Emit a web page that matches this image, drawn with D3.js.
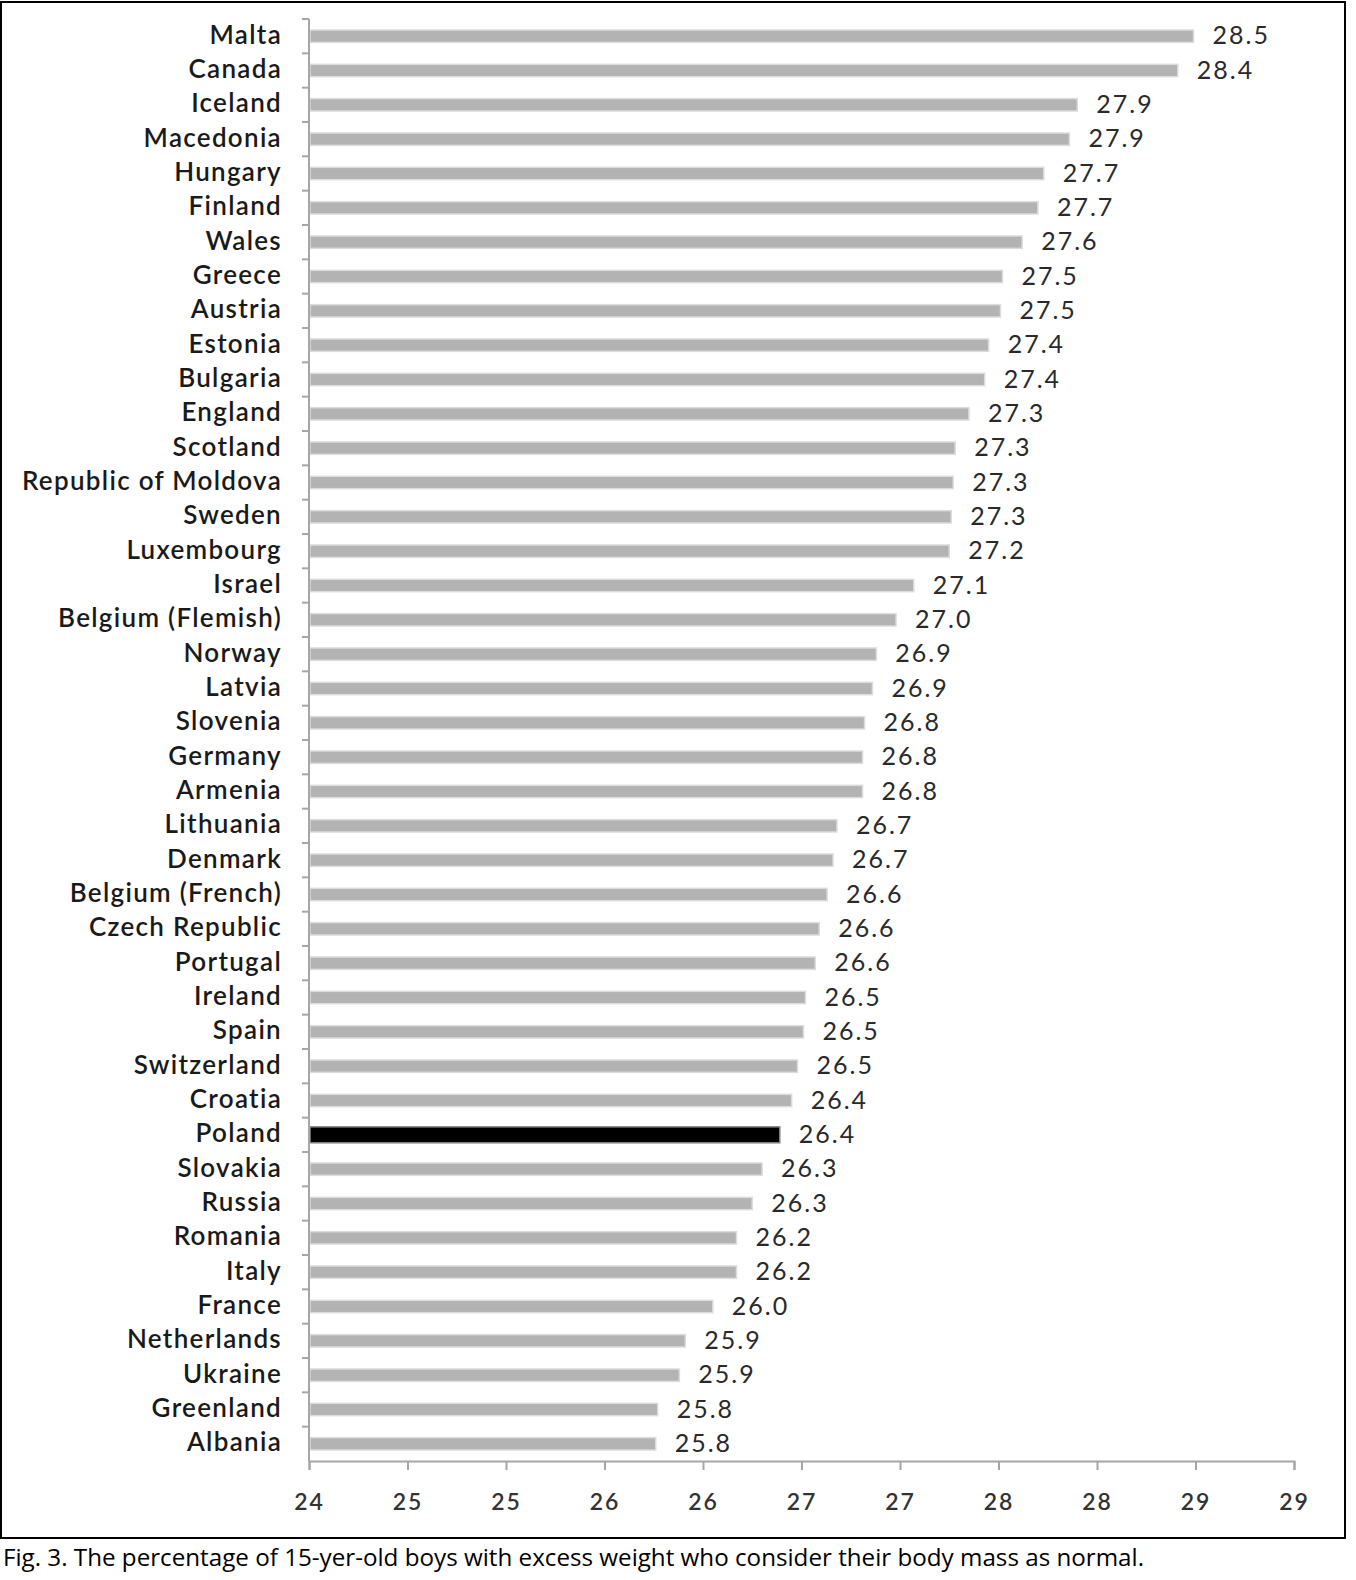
<!DOCTYPE html>
<html>
<head>
<meta charset="utf-8">
<script src="https://cdn.jsdelivr.net/npm/d3@7"></script>
<style>
  html, body { margin: 0; padding: 0; background: #fff; overflow: hidden; }
  svg { display: block; }
</style>
</head>
<body>
<svg id="chart" width="1356" height="1580"></svg>
<script>
const countries = ["Malta","Canada","Iceland","Macedonia","Hungary","Finland","Wales","Greece","Austria","Estonia","Bulgaria","England","Scotland","Republic of Moldova","Sweden","Luxembourg","Israel","Belgium (Flemish)","Norway","Latvia","Slovenia","Germany","Armenia","Lithuania","Denmark","Belgium (French)","Czech Republic","Portugal","Ireland","Spain","Switzerland","Croatia","Poland","Slovakia","Russia","Romania","Italy","France","Netherlands","Ukraine","Greenland","Albania"];
const values = [28.49,28.41,27.90,27.86,27.73,27.70,27.62,27.52,27.51,27.45,27.43,27.35,27.28,27.27,27.26,27.25,27.07,26.98,26.88,26.86,26.82,26.81,26.81,26.68,26.66,26.63,26.59,26.57,26.52,26.51,26.48,26.45,26.39,26.30,26.25,26.17,26.17,26.05,25.91,25.88,25.77,25.76];
const valueLabels = ["28.5","28.4","27.9","27.9","27.7","27.7","27.6","27.5","27.5","27.4","27.4","27.3","27.3","27.3","27.3","27.2","27.1","27.0","26.9","26.9","26.8","26.8","26.8","26.7","26.7","26.6","26.6","26.6","26.5","26.5","26.5","26.4","26.4","26.3","26.3","26.2","26.2","26.0","25.9","25.9","25.8","25.8"];
const tickValues = [24,24.5,25,25.5,26,26.5,27,27.5,28,28.5,29];
const tickLabels = ["24","25","25","26","26","27","27","28","28","29","29"];
const highlight = "Poland";
const caption = "Fig. 3. The percentage of 15-yer-old boys with excess weight who consider their body mass as normal.";

const svg = d3.select("#chart");
const font = "Lato, 'Open Sans', sans-serif";

// frame
svg.append("rect").attr("x", 1).attr("y", 2).attr("width", 1344).attr("height", 1536)
  .attr("fill", "none").attr("stroke", "#000").attr("stroke-width", 2);

const x = d3.scaleLinear().domain([24, 29]).range([309, 1294]);
const y = d3.scaleBand().domain(countries).range([19, 1461]).paddingInner(0.64).paddingOuter(0.32);

const data = countries.map((c, i) => ({c, v: values[i], l: valueLabels[i]}));

// bars
svg.append("g").selectAll("rect").data(data).join("rect")
  .attr("x", x(24) + 1)
  .attr("y", d => d.c === highlight ? y(d.c) + y.bandwidth()/2 - 8 : y(d.c))
  .attr("height", d => d.c === highlight ? 16 : y.bandwidth())
  .attr("width", d => x(d.v) - x(24) - 1)
  .attr("fill", d => d.c === highlight ? "#000" : "#b3b3b3")
  .attr("stroke", d => d.c === highlight ? "#888" : "#dcdcdc")
  .attr("stroke-width", 1.5);

// value labels
svg.append("g").selectAll("text").data(data).join("text")
  .attr("x", d => x(d.v) + 19)
  .attr("y", d => y(d.c) + y.bandwidth()/2 + 2)
  .attr("dominant-baseline", "middle")
  .attr("font-family", font).attr("font-size", 25).attr("letter-spacing", 2)
  .attr("fill", "#2a2a2a")
  .text(d => d.l);

// y axis
const yBoundaries = d3.range(countries.length).map(i => 19 + i * (1442 / countries.length));
const yg = svg.append("g");
yg.append("line").attr("x1", 309).attr("x2", 309).attr("y1", 19).attr("y2", 1461)
  .attr("stroke", "#a6a6a6").attr("stroke-width", 2);
yg.selectAll("line.t").data(yBoundaries).join("line").attr("class", "t")
  .attr("x1", 302).attr("x2", 309).attr("y1", d => d).attr("y2", d => d)
  .attr("stroke", "#a6a6a6").attr("stroke-width", 2);

// country labels
svg.append("g").selectAll("text").data(data).join("text")
  .attr("x", 282)
  .attr("y", d => y(d.c) + y.bandwidth()/2 + 1)
  .attr("text-anchor", "end").attr("dominant-baseline", "middle")
  .attr("font-family", font).attr("font-size", 26).attr("font-weight", 600)
  .attr("letter-spacing", 1.3)
  .attr("fill", "#1a1a1a")
  .text(d => d.c);

// x axis
const xAxis = d3.axisBottom(x).tickValues(tickValues)
  .tickFormat((d, i) => tickLabels[i]).tickSize(9).tickPadding(24);
const xg = svg.append("g").attr("transform", "translate(0,1461)").call(xAxis);
xg.select(".domain").attr("stroke", "#a6a6a6").attr("stroke-width", 2);
xg.selectAll(".tick line").attr("stroke", "#a6a6a6").attr("stroke-width", 2);
xg.selectAll(".tick text").attr("font-family", font).attr("font-size", 23)
  .attr("font-weight", 600).attr("letter-spacing", 2).attr("fill", "#333");

// caption
svg.append("text").attr("x", 3).attr("y", 1566)
  .attr("font-family", "'Open Sans', Lato, sans-serif").attr("font-size", 24.2).attr("fill", "#000")
  .text(caption);
</script>
</body>
</html>
